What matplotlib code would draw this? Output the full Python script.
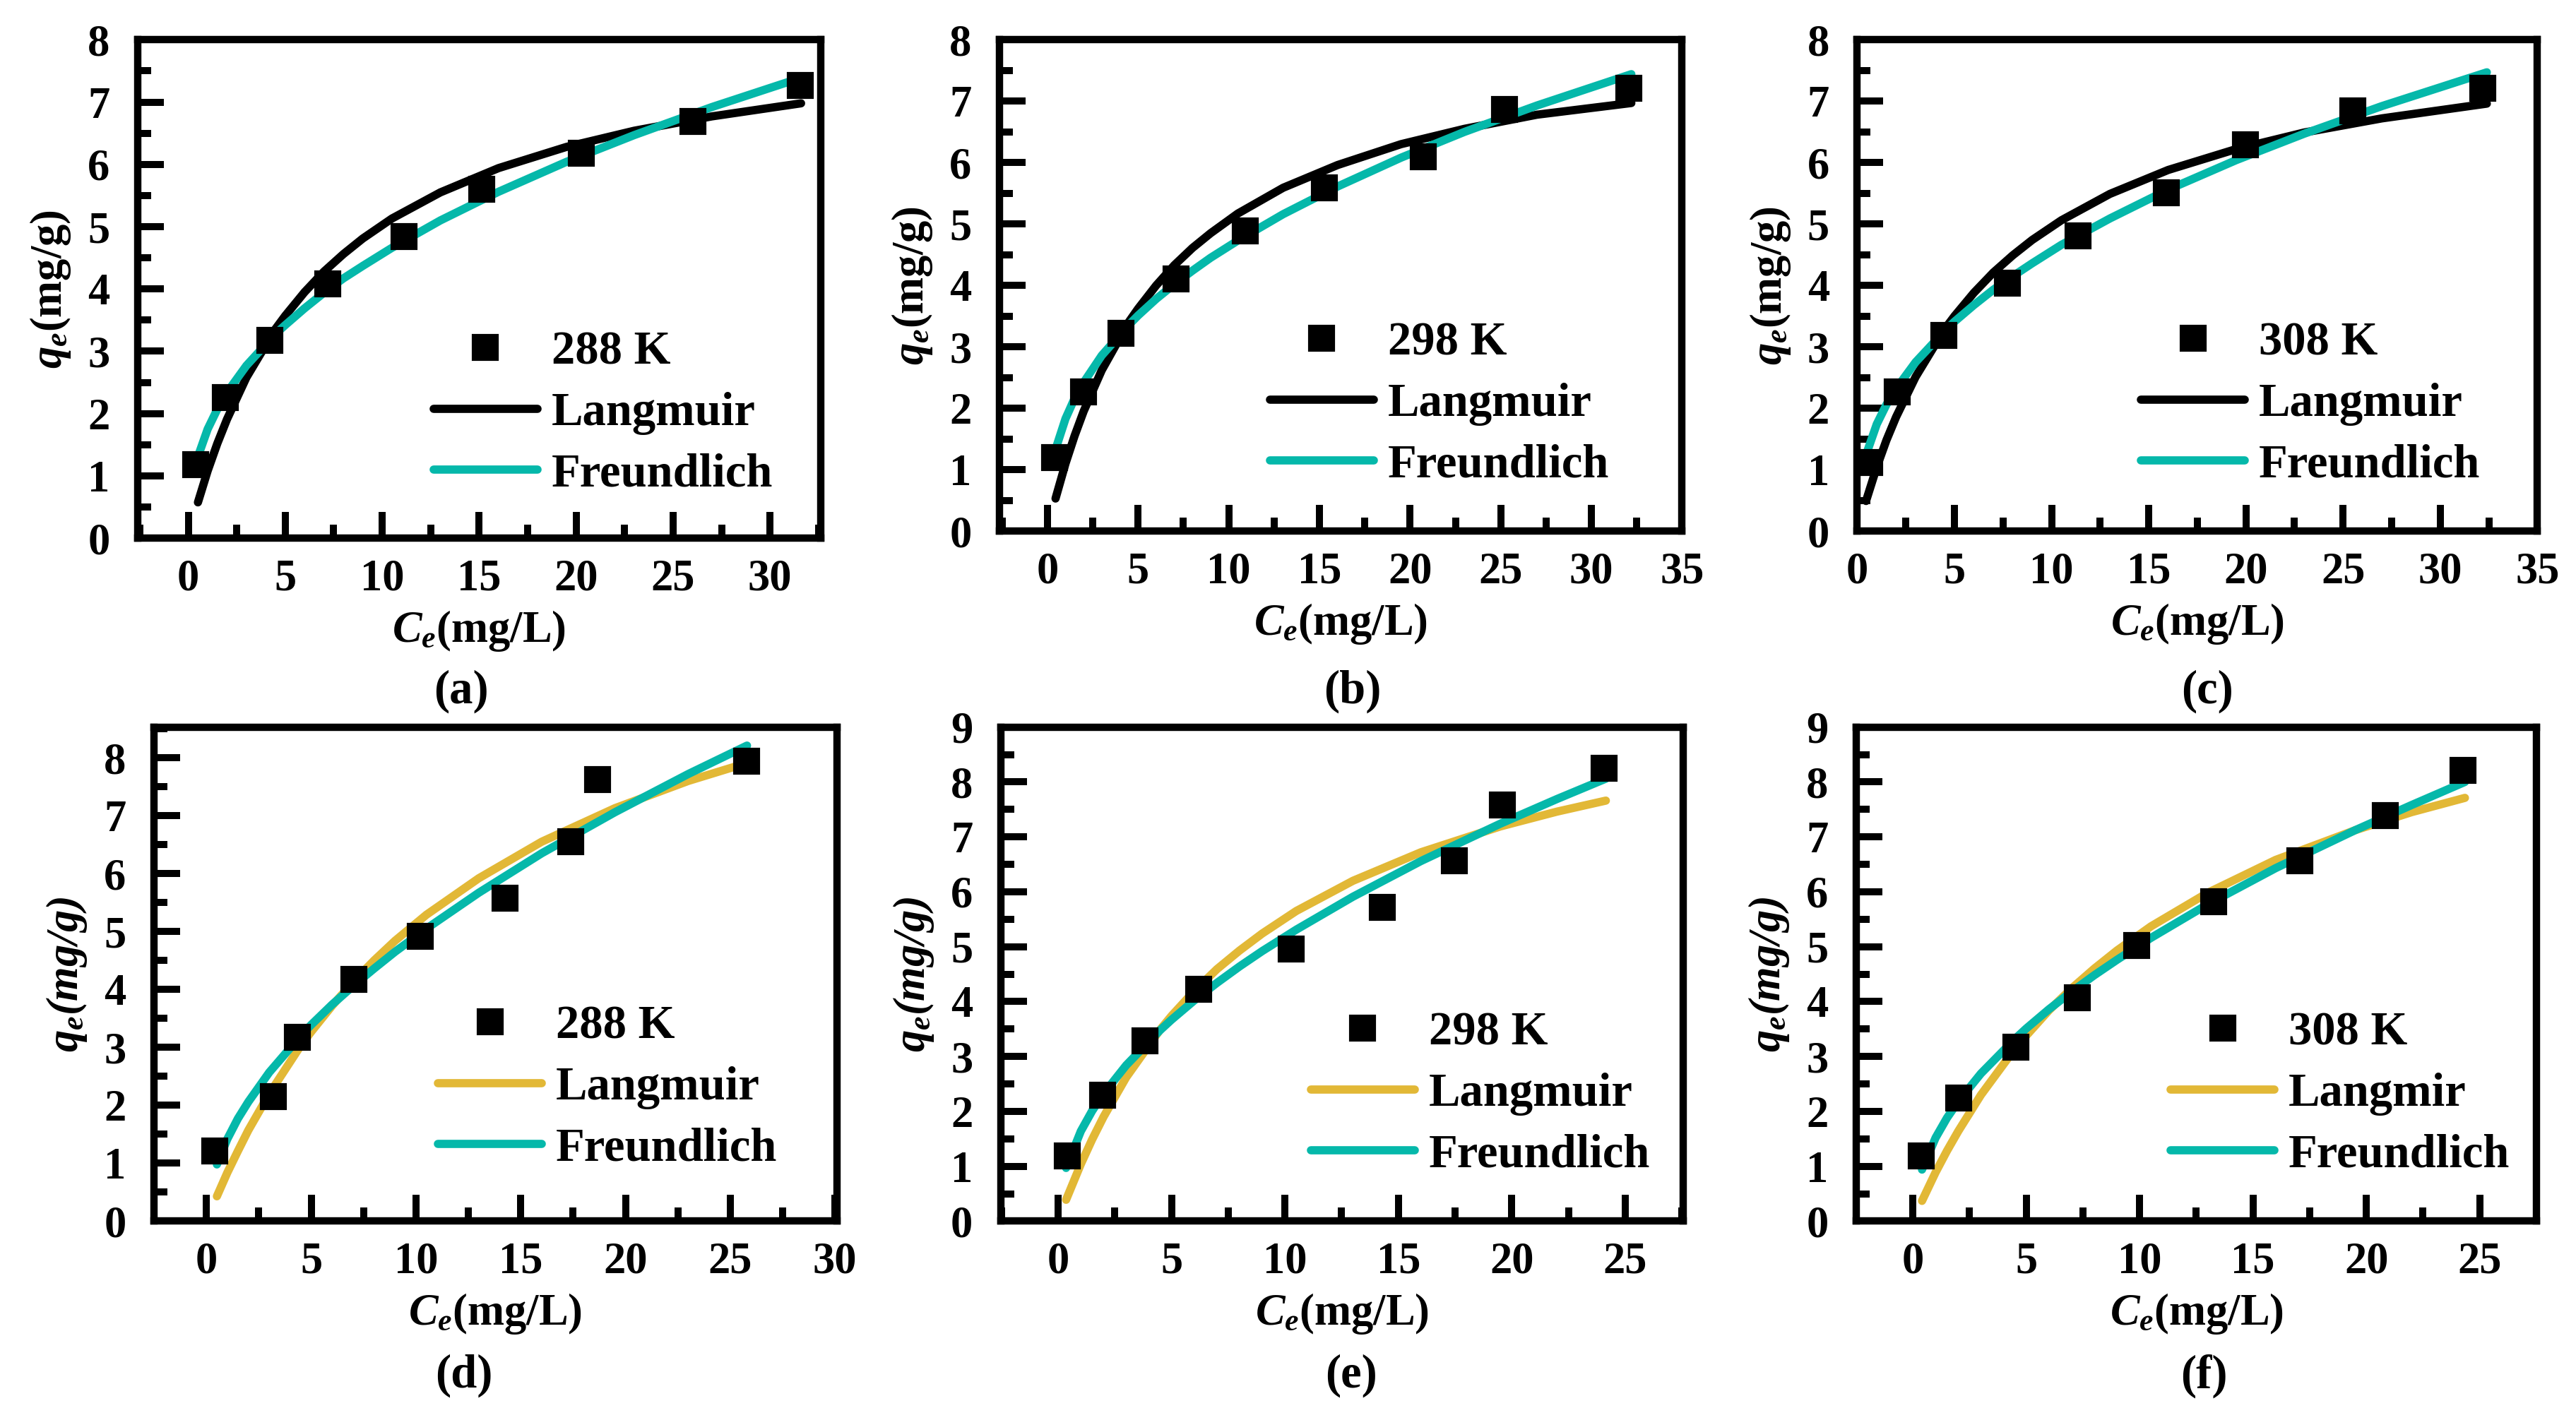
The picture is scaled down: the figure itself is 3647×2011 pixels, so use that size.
import matplotlib
matplotlib.use("Agg")
import matplotlib.pyplot as plt
from matplotlib.ticker import MultipleLocator

plt.rcParams["font.family"] = ["Liberation Serif", "DejaVu Serif"]
plt.rcParams["font.weight"] = "bold"
plt.rcParams["mathtext.fontset"] = "custom"
plt.rcParams["mathtext.rm"] = "Liberation Serif:bold"
plt.rcParams["mathtext.it"] = "Liberation Serif:italic:bold"
plt.rcParams["mathtext.bf"] = "Liberation Serif:bold"

# measured points (Ce, qe)
ce_a = [0.37, 1.93, 4.21, 7.19, 11.12, 15.15, 20.27, 26.04, 31.56]
qe_a = [1.18, 2.26, 3.17, 4.08, 4.84, 5.60, 6.18, 6.69, 7.27]
ce_b = [0.39, 2.0, 4.04, 7.08, 10.93, 15.27, 20.74, 25.2, 32.07]
qe_b = [1.20, 2.27, 3.22, 4.11, 4.89, 5.59, 6.10, 6.86, 7.21]
ce_c = [0.65, 2.06, 4.46, 7.71, 11.37, 15.89, 19.98, 25.49, 32.2]
qe_c = [1.12, 2.27, 3.19, 4.04, 4.81, 5.51, 6.29, 6.84, 7.21]
ce_d = [0.39, 3.21, 4.34, 7.05, 10.21, 14.26, 17.37, 18.68, 25.79]
qe_d = [1.21, 2.15, 3.18, 4.17, 4.92, 5.58, 6.55, 7.62, 7.94]
ce_e = [0.39, 1.95, 3.84, 6.2, 10.29, 14.28, 17.46, 19.6, 24.08]
qe_e = [1.19, 2.29, 3.29, 4.22, 4.96, 5.71, 6.57, 7.58, 8.25]
ce_f = [0.36, 2.01, 4.55, 7.26, 9.87, 13.26, 17.06, 20.84, 24.27]
qe_f = [1.19, 2.24, 3.17, 4.07, 5.02, 5.82, 6.57, 7.39, 8.21]

# fitted curves
fit_x_a = [0.5, 1, 1.5, 2, 3, 4.5, 5, 6, 7, 8, 9, 10.5, 13, 16, 19.5, 23, 27, 31.6]
lang_a = [0.575, 1.08, 1.52, 1.91, 2.58, 3.36, 3.57, 3.95, 4.28, 4.56, 4.81, 5.13, 5.55, 5.94,
          6.28, 6.54, 6.77, 6.98]
freu_a = [1.31, 1.75, 2.07, 2.34, 2.77, 3.28, 3.42, 3.69, 3.94, 4.17, 4.37, 4.66, 5.10, 5.56,
          6.04, 6.47, 6.92, 7.39]

fit_x_b = [0.45, 1, 1.5, 2, 3, 4.5, 5, 6, 7, 8, 9, 10.5, 13, 16, 19.5, 23, 27, 32.2]
lang_b = [0.53, 1.10, 1.55, 1.95, 2.62, 3.41, 3.62, 4.00, 4.33, 4.61, 4.85, 5.17, 5.59, 5.96,
          6.30, 6.55, 6.78, 6.97]
freu_b = [1.33, 1.83, 2.16, 2.42, 2.86, 3.36, 3.51, 3.78, 4.02, 4.24, 4.45, 4.73, 5.16, 5.61,
          6.08, 6.50, 6.93, 7.44]

fit_x_c = [0.45, 1, 1.5, 2, 3, 4.5, 5, 6, 7, 8, 9, 10.5, 13, 16, 19.5, 23, 27, 32.4]
lang_c = [0.49, 1.04, 1.48, 1.86, 2.51, 3.29, 3.50, 3.88, 4.21, 4.49, 4.74, 5.06, 5.49, 5.88,
          6.22, 6.49, 6.72, 6.96]
freu_c = [1.24, 1.74, 2.06, 2.32, 2.75, 3.26, 3.41, 3.68, 3.93, 4.15, 4.36, 4.66, 5.09, 5.56,
          6.04, 6.47, 6.92, 7.47]

fit_x_d = [0.5, 1, 1.5, 2, 3, 4.5, 5, 6, 7, 8, 9, 10.5, 13, 16, 19.5, 23, 25.8]
lang_d = [0.43, 0.84, 1.21, 1.57, 2.20, 3.03, 3.27, 3.72, 4.13, 4.50, 4.84, 5.29, 5.92, 6.55,
          7.13, 7.60, 7.91]
freu_d = [0.98, 1.42, 1.77, 2.06, 2.57, 3.20, 3.39, 3.74, 4.06, 4.36, 4.65, 5.05, 5.67, 6.35,
          7.06, 7.72, 8.21]

fit_x_e = [0.35, 1, 1.5, 2, 3, 4.5, 5, 6, 7, 8, 9, 10.5, 13, 16, 19.5, 22, 24.15]
lang_e = [0.39, 1.04, 1.49, 1.90, 2.62, 3.49, 3.74, 4.19, 4.59, 4.93, 5.24, 5.65, 6.20, 6.72,
          7.19, 7.46, 7.66]
freu_e = [0.97, 1.64, 2.01, 2.32, 2.84, 3.48, 3.67, 4.02, 4.34, 4.64, 4.92, 5.31, 5.91, 6.56,
          7.24, 7.69, 8.06]

fit_x_f = [0.4, 1, 1.5, 2, 3, 4.5, 5, 6, 7, 8, 9, 10.5, 13, 16, 19.5, 22, 24.35]
lang_f = [0.37, 0.89, 1.28, 1.64, 2.30, 3.14, 3.38, 3.84, 4.24, 4.60, 4.93, 5.37, 5.98, 6.58,
          7.12, 7.45, 7.71]
freu_f = [0.94, 1.52, 1.88, 2.18, 2.69, 3.32, 3.51, 3.86, 4.18, 4.48, 4.76, 5.16, 5.77, 6.43,
          7.12, 7.58, 8.00]

temps = ["288 K", "298 K", "308 K", "288 K", "298 K", "308 K"]
lang_names = ["Langmuir", "Langmuir", "Langmuir", "Langmuir", "Langmuir", "Langmir"]
panel_tags = ["(a)", "(b)", "(c)", "(d)", "(e)", "(f)"]

GOLD = "#E2B836"
TEAL = "#05B8AA"

fig = plt.figure(figsize=(3647 / 300, 2011 / 300), dpi=300)

panels = [
    dict(pos=[0.0535, 0.621, 0.265, 0.351], ce=ce_a, qe=qe_a, fx=fit_x_a, lg=lang_a, fr=freu_a,
         xlim=(-2.6, 32.6), ylim=(0, 8), xt=range(0, 31, 5), yt=range(0, 9), lc="black",
         leg=(0.93, 0.085), tag=(0.179, 0.513), ital=False),
    dict(pos=[0.388, 0.626, 0.265, 0.346], ce=ce_b, qe=qe_b, fx=fit_x_b, lg=lang_b, fr=freu_b,
         xlim=(-2.64, 35), ylim=(0, 8), xt=range(0, 36, 5), yt=range(0, 9), lc="black",
         leg=(0.893, 0.09), tag=(0.525, 0.513), ital=False),
    dict(pos=[0.721, 0.626, 0.264, 0.346], ce=ce_c, qe=qe_c, fx=fit_x_c, lg=lang_c, fr=freu_c,
         xlim=(0, 35), ylim=(0, 8), xt=range(0, 36, 5), yt=range(0, 9), lc="black",
         leg=(0.916, 0.09), tag=(0.857, 0.513), ital=False),
    dict(pos=[0.0598, 0.140, 0.265, 0.348], ce=ce_d, qe=qe_d, fx=fit_x_d, lg=lang_d, fr=freu_d,
         xlim=(-2.5, 30.08), ylim=(0, 8.53), xt=range(0, 31, 5), yt=range(0, 9), lc=GOLD,
         leg=(0.913, 0.103), tag=(0.180, 0.031), ital=True),
    dict(pos=[0.3885, 0.140, 0.265, 0.348], ce=ce_e, qe=qe_e, fx=fit_x_e, lg=lang_e, fr=freu_e,
         xlim=(-2.53, 27.57), ylim=(0, 9), xt=range(0, 26, 5), yt=range(0, 10), lc=GOLD,
         leg=(0.951, 0.09), tag=(0.5245, 0.031), ital=True),
    dict(pos=[0.7206, 0.140, 0.264, 0.348], ce=ce_f, qe=qe_f, fx=fit_x_f, lg=lang_f, fr=freu_f,
         xlim=(-2.5, 27.5), ylim=(0, 9), xt=range(0, 26, 5), yt=range(0, 10), lc=GOLD,
         leg=(0.961, 0.09), tag=(0.8555, 0.031), ital=True),
]

for i, p in enumerate(panels):
    ax = fig.add_axes(p["pos"])
    ax.plot(p["ce"], p["qe"], "s", color="black", markersize=8, label=temps[i], zorder=3)
    ax.plot(p["fx"], p["lg"], "-", color=p["lc"], lw=2.8, label=lang_names[i],
            solid_capstyle="round", solid_joinstyle="round", zorder=2)
    ax.plot(p["fx"], p["fr"], "-", color=TEAL, lw=2.8, label="Freundlich",
            solid_capstyle="round", solid_joinstyle="round", zorder=2)
    ax.set_xlim(p["xlim"])
    ax.set_ylim(p["ylim"])
    ax.set_xticks(list(p["xt"]))
    ax.set_yticks(list(p["yt"]))
    ax.xaxis.set_minor_locator(MultipleLocator(2.5))
    ax.yaxis.set_minor_locator(MultipleLocator(0.5))
    ax.tick_params(which="both", direction="in", top=False, right=False, width=2.4)
    ax.tick_params(which="major", length=8.9, labelsize=15)
    ax.tick_params(axis="x", which="major", pad=7)
    ax.tick_params(axis="y", which="major", pad=9.5)
    ax.tick_params(which="minor", length=4.6)
    for lab in ax.get_xticklabels() + ax.get_yticklabels():
        lab.set_fontweight("bold")
    for sp in ax.spines.values():
        sp.set_linewidth(2.5)
    ax.set_xlabel(r"$C_e$(mg/L)", fontsize=15, fontweight="bold", labelpad=3)
    if p["ital"]:
        ax.set_ylabel(r"$q_e$(mg/g)", fontsize=15, fontweight="bold", fontstyle="italic", labelpad=5)
    else:
        ax.set_ylabel(r"$q_e$(mg/g)", fontsize=15, fontweight="bold", labelpad=5)
    ax.legend(loc="lower right", bbox_to_anchor=p["leg"], frameon=False, borderpad=0,
              borderaxespad=0, handlelength=2.2, handletextpad=0.3,
              labelspacing=0.38, prop={"weight": "bold", "size": 16})
    fig.text(p["tag"][0], p["tag"][1], panel_tags[i], ha="center", va="center",
             fontsize=16, fontweight="bold")

fig.savefig("out.png", dpi=300)
